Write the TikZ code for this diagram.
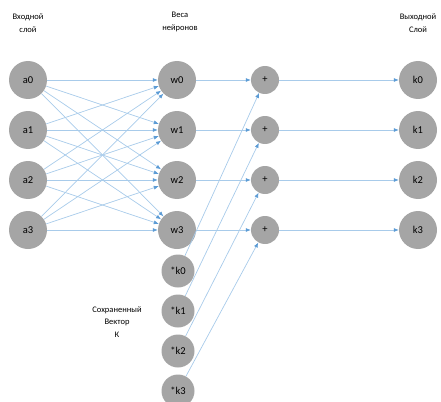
\documentclass[tikz,border=0pt]{standalone}
\usepackage{fontspec}
\setmainfont{Carlito}
\usetikzlibrary{arrows.meta, positioning}

\definecolor{nodegray}{HTML}{A5A5A5}
\definecolor{linkblue}{HTML}{A8CBEA}
\definecolor{tipblue}{HTML}{5B9BD5}

\tikzset{
  neuron/.style={circle, fill=nodegray, minimum size=38pt, inner sep=0pt, font=\fontsize{10.5}{11}\selectfont},
  saved/.style={neuron, minimum size=33pt},
  summa/.style={neuron, minimum size=28pt},
  caption/.style={align=center, font=\fontsize{8.5}{12.5}\selectfont},
  link/.style={draw=linkblue, line width=0.7pt, -{Latex[length=5pt,width=4pt,color=tipblue]}}
}

\begin{document}
\begin{tikzpicture}[x=1pt,y=1pt,node distance=50pt]
        \useasboundingbox (0,0) rectangle (441,-401);

        % input layer
        \node[neuron] (a0) at (28,-80) {a0};
        \node[neuron] (a1) [below of = a0] {a1};
        \node[neuron] (a2) [below of = a1] {a2};
        \node[neuron] (a3) [below of = a2] {a3};

        % weights
        \node[neuron] (w0) at (177,-80) {w0};
        \node[neuron] (w1) [below of = w0] {w1};
        \node[neuron] (w2) [below of = w1] {w2};
        \node[neuron] (w3) [below of = w2] {w3};

        % saved vector
        \node[saved] (sk0) at (178,-271) {*k0};
        \node[saved] (sk1) [node distance=40pt, below of = sk0] {*k1};
        \node[saved] (sk2) [node distance=40pt, below of = sk1] {*k2};
        \node[saved] (sk3) [node distance=40pt, below of = sk2] {*k3};

        % sums
        \node[summa] (p0) at (265,-80) {+};
        \node[summa] (p1) [below of = p0] {+};
        \node[summa] (p2) [below of = p1] {+};
        \node[summa] (p3) [below of = p2] {+};

        % output layer
        \node[neuron] (k0) at (418,-80) {k0};
        \node[neuron] (k1) [below of = k0] {k1};
        \node[neuron] (k2) [below of = k1] {k2};
        \node[neuron] (k3) [below of = k2] {k3};

        \node[caption] (tin) at (28,-23) {Входной\\слой};
        \node[caption] (tw) at (180,-22) {Веса\\нейронов};
        \node[caption] (tout) at (418,-23) {Выходной\\Слой};
        \node[caption] (tsk) at (117,-322) {Сохраненный\\Вектор\\К};

        \path[link] (a0)
          edge (w0) edge (w1) edge (w2) edge (w3);
        \path[link] (a1)
          edge (w0) edge (w1) edge (w2) edge (w3);
        \path[link] (a2)
          edge (w0) edge (w1) edge (w2) edge (w3);
        \path[link] (a3)
          edge (w0) edge (w1) edge (w2) edge (w3);

        \path[link] (w0) edge (p0);
        \path[link] (w1) edge (p1);
        \path[link] (w2) edge (p2);
        \path[link] (w3) edge (p3);

        \path[link] (sk0) edge (p0);
        \path[link] (sk1) edge (p1);
        \path[link] (sk2) edge (p2);
        \path[link] (sk3) edge (p3);

        \path[link] (p0) edge (k0);
        \path[link] (p1) edge (k1);
        \path[link] (p2) edge (k2);
        \path[link] (p3) edge (k3);
      \end{tikzpicture}
\end{document}
